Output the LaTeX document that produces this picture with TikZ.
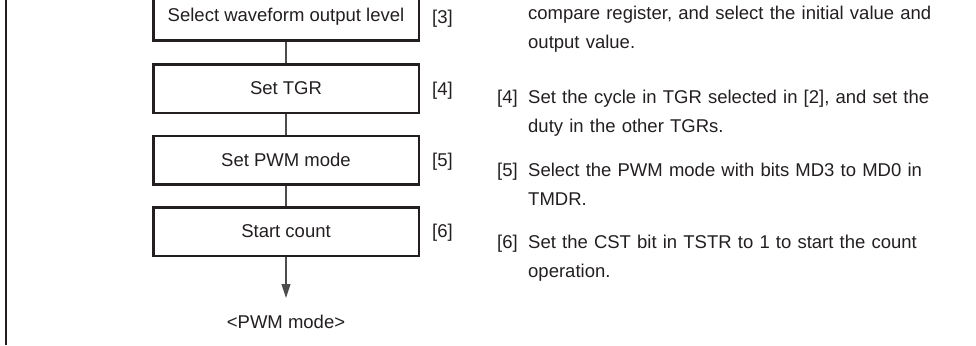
\documentclass[tikz,border=0pt]{standalone}
\usepackage{fontspec}
\setmainfont{Liberation Sans}
\usetikzlibrary{arrows.meta}
\definecolor{inkGray}{HTML}{231F20}
\definecolor{lineGray}{HTML}{4D4D4D}

\begin{document}
\begin{tikzpicture}[x=1pt,y=-1pt]
\fontsize{18.5}{29}\selectfont
  \tikzstyle{procStyle}=[draw=inkGray,line width=2.5pt,minimum width=265.5pt,minimum height=48.5pt,inner sep=0pt,text=inkGray]
  \tikzstyle{tagStyle}=[anchor=west,inner sep=0pt,text=inkGray]
  \tikzstyle{numStyle}=[anchor=base west,inner sep=0pt,text=inkGray]
  \tikzstyle{noteStyle}=[anchor=base west,inner sep=0pt,text width=440pt,align=left,text=inkGray]
  \tikzstyle{linkStyle}=[draw=lineGray,line width=1.1pt]

  \clip (0,0) rectangle (976,345);
  \draw[inkGray,line width=2.7pt] (6,0) -- (6,345);

  \begin{scope}
   % flow of steps
   \node[procStyle](p3) at (286,16.5) {Select waveform output level};
   \node[procStyle](p4) at (286,88.5) {Set TGR};
   \draw[linkStyle] (p3) -- (p4);
   \node[procStyle](p5) at (286,160) {Set PWM mode};
   \draw[linkStyle] (p4) -- (p5);
   \node[procStyle](p6) at (286,231.5) {Start count};
   \draw[linkStyle] (p5) -- (p6);

   \coordinate (tip) at (286,298);
   \draw[linkStyle,-{Triangle[length=14pt,width=9pt]}] (p6) -- (tip);
   \node[inner sep=0pt,text=inkGray](pwm) at (286,322) {<PWM mode>};

   % step numbers
   \node[tagStyle](t3) at (432,19) {[3]};
   \node[tagStyle](t4) at (432,91) {[4]};
   \node[tagStyle](t5) at (432,162) {[5]};
   \node[tagStyle](t6) at (432,233) {[6]};
  \end{scope}

  \begin{scope}
   % notes
   \node[noteStyle](n3) at (528,19.5) {compare register, and select the initial value and\\output value.};
   \node[numStyle](m4) at (497,103.5) {[4]};
   \node[noteStyle](n4) at (528,103.5) {Set the cycle in TGR selected in [2], and set the\\duty in the other TGRs.};
   \node[numStyle](m5) at (497,176.5) {[5]};
   \node[noteStyle](n5) at (528,176.5) {Select the PWM mode with bits MD3 to MD0 in\\TMDR.};
   \node[numStyle](m6) at (497,248.5) {[6]};
   \node[noteStyle](n6) at (528,248.5) {Set the CST bit in TSTR to 1 to start the count\\operation.};
  \end{scope}

\end{tikzpicture}
\end{document}
